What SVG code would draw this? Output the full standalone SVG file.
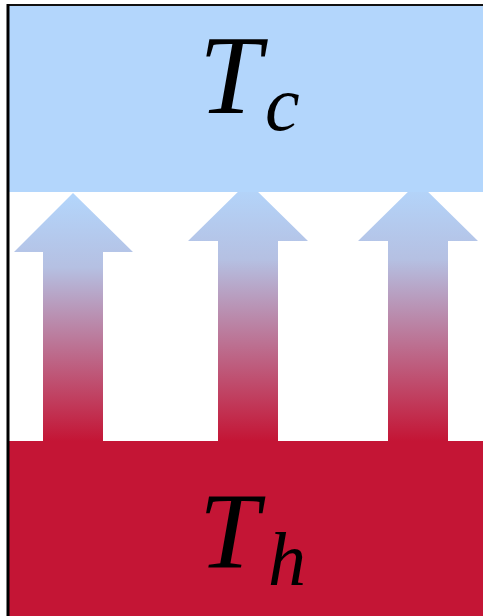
<svg xmlns="http://www.w3.org/2000/svg" width="483" height="616" viewBox="0 0 483 616">
<style>
.math{font-family:"Liberation Serif","DejaVu Serif",serif;font-style:italic;fill:#000}
.cold{fill:#b3d6fc}
.hot{fill:#c41535}
.arrow{fill:url(#heat)}
</style>
<defs>
<linearGradient id="heat" x1="0" y1="0" x2="0" y2="1">
<stop offset="0" stop-color="#b3d6fc"/>
<stop offset="0.3" stop-color="#b5c0e2"/>
<stop offset="1" stop-color="#c41535"/>
</linearGradient>
</defs>
<rect x="0" y="0" width="483" height="616" fill="#fff"/>
<g id="connectors">
<path class="arrow" d="M43,441 L43,252 L14,252 L73,193 L133,252 L103,252 L103,441 Z"/>
<path class="arrow" d="M218,441 L218,241 L188,241 L248,182 L308,241 L278,241 L278,441 Z"/>
<path class="arrow" d="M388,441 L388,241 L358,241 L418,182 L478,241 L448,241 L448,441 Z"/>
</g>
<g id="cold">
<rect class="cold" x="8" y="5" width="475" height="187"/>
<text class="math" x="199" y="113" font-size="112">T</text>
<text class="math" x="265" y="130" font-size="78">c</text>
</g>
<g id="hot">
<rect class="hot" x="8" y="441" width="475" height="175"/>
<text class="math" x="199" y="567" font-size="108">T</text>
<text class="math" x="268" y="585" font-size="76">h</text>
</g>
<g id="frame">
<line x1="8" y1="5" x2="483" y2="5" stroke="#111" stroke-width="2"/>
<line x1="8" y1="4" x2="8" y2="616" stroke="#000" stroke-width="3"/>
</g>
</svg>
